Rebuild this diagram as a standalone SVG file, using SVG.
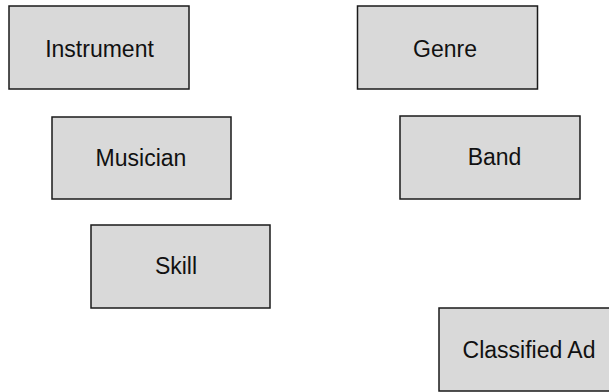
<svg xmlns="http://www.w3.org/2000/svg" width="609" height="392" viewBox="0 0 609 392">
<style>
.box{fill:#d9d9d9;stroke:#1a1a1a;stroke-width:1.5}
.lbl{font-family:"Liberation Sans",Arial,sans-serif;font-size:23px;fill:#111;text-anchor:middle}
</style>
<rect width="609" height="392" fill="#fff"/>
<g id="connectors"></g>
<g id="instrument"><rect class="box" x="9" y="6" width="180" height="83"/><text class="lbl" x="99.5" y="56.5">Instrument</text></g>
<g id="genre"><rect class="box" x="357.5" y="6" width="180" height="83"/><text class="lbl" x="445" y="56.5">Genre</text></g>
<g id="musician"><rect class="box" x="52" y="117" width="179" height="82"/><text class="lbl" x="141" y="165.5">Musician</text></g>
<g id="band"><rect class="box" x="400" y="116" width="180" height="83"/><text class="lbl" x="494.5" y="165">Band</text></g>
<g id="skill"><rect class="box" x="91" y="225" width="179" height="83"/><text class="lbl" x="176" y="274">Skill</text></g>
<g id="classified-ad"><rect class="box" x="439" y="308" width="182" height="83"/><text class="lbl" x="529" y="358">Classified Ad</text></g>
</svg>
